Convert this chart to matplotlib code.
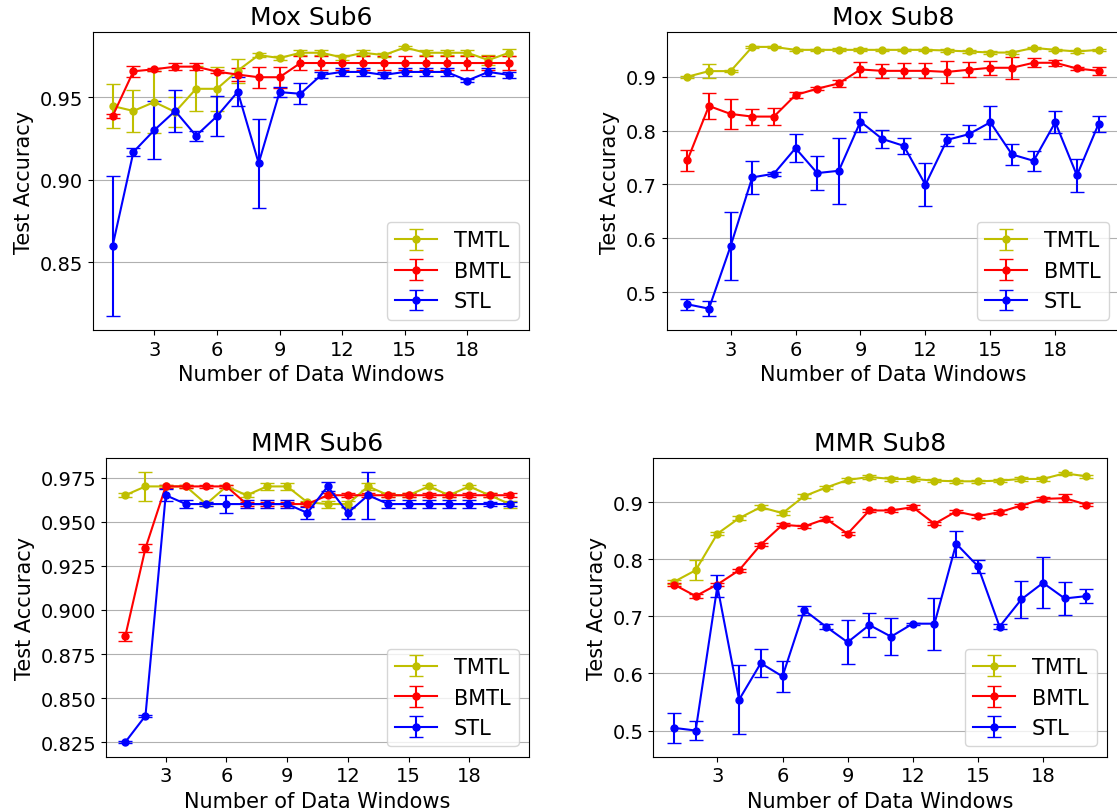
import numpy as np
import matplotlib
matplotlib.use("Agg")
import matplotlib.pyplot as plt

# x values: number of data windows
windows = np.arange(1, 21)

# Mox Sub6
mox6_tmtl = [0.9446, 0.9416, 0.947, 0.941, 0.955, 0.955, 0.966, 0.9754, 0.9736, 0.9768,
             0.9768, 0.974, 0.9768, 0.9754, 0.980, 0.9768, 0.9768, 0.9768, 0.9724, 0.9768]
mox6_tmtl_err = [0.0135, 0.0125, 0.019, 0.0093, 0.0137, 0.0134, 0.0073, 0.001, 0.001, 0.0015,
                 0.0015, 0.0015, 0.0015, 0.0012, 0.001, 0.0015, 0.0015, 0.0015, 0.003, 0.002]
mox6_bmtl = [0.9384, 0.9656, 0.9668, 0.9684, 0.9684, 0.9654, 0.9636, 0.962, 0.962, 0.9706,
             0.9706, 0.9706, 0.9706, 0.9706, 0.9706, 0.9706, 0.9706, 0.9706, 0.9706, 0.9706]
mox6_bmtl_err = [0.0013, 0.0033, 0.001, 0.002, 0.002, 0.001, 0.004, 0.0064, 0.0064, 0.004,
                 0.004, 0.004, 0.004, 0.004, 0.004, 0.004, 0.004, 0.004, 0.004, 0.004]
mox6_stl = [0.8598, 0.9168, 0.930, 0.9416, 0.9266, 0.9384, 0.9532, 0.910, 0.953, 0.952,
            0.9634, 0.9652, 0.9652, 0.9634, 0.9652, 0.9652, 0.9652, 0.960, 0.9652, 0.9634]
mox6_stl_err = [0.0425, 0.0025, 0.0176, 0.0125, 0.003, 0.012, 0.0088, 0.027, 0.003, 0.0063,
                0.002, 0.0025, 0.0025, 0.002, 0.0025, 0.0025, 0.0025, 0.001, 0.0025, 0.002]

# Mox Sub8
mox8_tmtl = [0.900, 0.9105, 0.9105, 0.9555, 0.9555, 0.950, 0.950, 0.950, 0.950, 0.950,
             0.950, 0.950, 0.9488, 0.947, 0.945, 0.945, 0.9537, 0.950, 0.947, 0.950]
mox8_tmtl_err = [0.002, 0.0126, 0.002, 0.002, 0.002, 0.002, 0.002, 0.003, 0.003, 0.002,
                 0.002, 0.002, 0.002, 0.002, 0.002, 0.002, 0.002, 0.002, 0.002, 0.002]
mox8_bmtl = [0.7444, 0.8457, 0.8309, 0.826, 0.826, 0.866, 0.8778, 0.8877, 0.9136, 0.911,
             0.911, 0.911, 0.909, 0.913, 0.9167, 0.9167, 0.926, 0.926, 0.9154, 0.911]
mox8_bmtl_err = [0.019, 0.025, 0.028, 0.015, 0.016, 0.006, 0.003, 0.007, 0.014, 0.013,
                 0.014, 0.014, 0.020, 0.014, 0.013, 0.020, 0.008, 0.006, 0.003, 0.008]
mox8_stl = [0.4772, 0.4691, 0.5852, 0.713, 0.7198, 0.7673, 0.721, 0.7253, 0.8167, 0.7846,
            0.7716, 0.6994, 0.7827, 0.7932, 0.8154, 0.7556, 0.7438, 0.8154, 0.7167, 0.8123]
mox8_stl_err = [0.0098, 0.0145, 0.0636, 0.030, 0.004, 0.0265, 0.031, 0.0614, 0.0185, 0.017,
                0.015, 0.0404, 0.0114, 0.0167, 0.0306, 0.020, 0.018, 0.0207, 0.0306, 0.0157]

# MMR Sub6
mmr6_tmtl = [0.965, 0.970, 0.970, 0.970, 0.960, 0.970, 0.965, 0.970, 0.970, 0.961,
             0.960, 0.960, 0.970, 0.965, 0.965, 0.970, 0.965, 0.970, 0.965, 0.960]
mmr6_tmtl_err = [0.001, 0.008, 0.001, 0.001, 0.001, 0.001, 0.001, 0.002, 0.002, 0.001,
                 0.002, 0.002, 0.002, 0.001, 0.001, 0.001, 0.001, 0.001, 0.001, 0.002]
mmr6_bmtl = [0.885, 0.935, 0.970, 0.970, 0.970, 0.970, 0.960, 0.960, 0.960, 0.960,
             0.965, 0.965, 0.965, 0.965, 0.965, 0.965, 0.965, 0.965, 0.965, 0.965]
mmr6_bmtl_err = [0.0025, 0.0023, 0.001, 0.001, 0.001, 0.001, 0.001, 0.001, 0.001, 0.001,
                 0.001, 0.001, 0.001, 0.001, 0.001, 0.001, 0.001, 0.001, 0.001, 0.001]
mmr6_stl = [0.825, 0.840, 0.965, 0.960, 0.960, 0.960, 0.960, 0.960, 0.960, 0.955,
            0.970, 0.955, 0.965, 0.960, 0.960, 0.960, 0.960, 0.960, 0.960, 0.960]
mmr6_stl_err = [0.0005, 0.0005, 0.0034, 0.0024, 0.001, 0.005, 0.0024, 0.0024, 0.0024, 0.0035,
                0.0024, 0.0035, 0.0134, 0.0024, 0.0024, 0.0024, 0.0024, 0.0024, 0.001, 0.001]

# MMR Sub8
mmr8_tmtl = [0.7605, 0.7808, 0.8448, 0.872, 0.8913, 0.8808, 0.9105, 0.9256, 0.939, 0.9442,
             0.9407, 0.9407, 0.9378, 0.9366, 0.9366, 0.9378, 0.9407, 0.9407, 0.9506, 0.9453]
mmr8_tmtl_err = [0.003, 0.0174, 0.003, 0.003, 0.003, 0.003, 0.003, 0.003, 0.003, 0.003,
                 0.003, 0.003, 0.003, 0.003, 0.003, 0.003, 0.003, 0.003, 0.003, 0.003]
mmr8_bmtl = [0.7558, 0.7355, 0.7558, 0.7808, 0.8256, 0.8605, 0.8576, 0.8709, 0.8448, 0.8855,
             0.8855, 0.8913, 0.8622, 0.8837, 0.8756, 0.8826, 0.8942, 0.9058, 0.907, 0.8959]
mmr8_bmtl_err = [0.003, 0.003, 0.003, 0.003, 0.003, 0.003, 0.003, 0.003, 0.003, 0.003,
                 0.003, 0.003, 0.003, 0.003, 0.003, 0.003, 0.003, 0.004, 0.007, 0.003]
mmr8_stl = [0.5047, 0.500, 0.7529, 0.554, 0.618, 0.5948, 0.711, 0.682, 0.6547, 0.6849,
            0.6645, 0.6872, 0.6872, 0.8273, 0.7878, 0.682, 0.7297, 0.7587, 0.7314, 0.7355]
mmr8_stl_err = [0.0267, 0.0174, 0.019, 0.060, 0.0247, 0.0276, 0.008, 0.005, 0.0387, 0.0206,
                0.033, 0.002, 0.0456, 0.0227, 0.0113, 0.004, 0.0326, 0.0448, 0.0282, 0.0125]

panels = [
    ("Mox Sub6", mox6_tmtl, mox6_tmtl_err, mox6_bmtl, mox6_bmtl_err, mox6_stl, mox6_stl_err),
    ("Mox Sub8", mox8_tmtl, mox8_tmtl_err, mox8_bmtl, mox8_bmtl_err, mox8_stl, mox8_stl_err),
    ("MMR Sub6", mmr6_tmtl, mmr6_tmtl_err, mmr6_bmtl, mmr6_bmtl_err, mmr6_stl, mmr6_stl_err),
    ("MMR Sub8", mmr8_tmtl, mmr8_tmtl_err, mmr8_bmtl, mmr8_bmtl_err, mmr8_stl, mmr8_stl_err),
]

# axes boxes in figure fractions (left, bottom, width, height)
boxes = [
    [0.0830, 0.5924, 0.3906, 0.3666],
    [0.5969, 0.5924, 0.4050, 0.3666],
    [0.0949, 0.0669, 0.3787, 0.3678],
    [0.5849, 0.0669, 0.4062, 0.3678],
]
yticks = [
    [0.85, 0.90, 0.95],
    [0.5, 0.6, 0.7, 0.8, 0.9],
    [0.825, 0.850, 0.875, 0.900, 0.925, 0.950, 0.975],
    [0.5, 0.6, 0.7, 0.8, 0.9],
]

fig = plt.figure(figsize=(11.17, 8.12), dpi=100)

for (title, t, te, b, be, s, se), box, yt in zip(panels, boxes, yticks):
    ax = fig.add_axes(box)
    kw = dict(marker='o', markersize=5, capsize=5, linewidth=1.5)
    ax.errorbar(windows, t, yerr=te, color='y', label='TMTL', **kw)
    ax.errorbar(windows, b, yerr=be, color='r', label='BMTL', **kw)
    ax.errorbar(windows, s, yerr=se, color='b', label='STL', **kw)
    ax.set_title(title, fontsize=18)
    ax.set_xlabel('Number of Data Windows', fontsize=15)
    ax.set_ylabel('Test Accuracy', fontsize=15)
    ax.set_xticks([3, 6, 9, 12, 15, 18])
    ax.set_yticks(yt)
    ax.tick_params(labelsize=14)
    ax.grid(axis='y', color='#b0b0b0', linewidth=0.8)
    ax.set_axisbelow(True)
    ax.legend(loc='lower right', fontsize=15)

fig.savefig('out.png', dpi=100)
